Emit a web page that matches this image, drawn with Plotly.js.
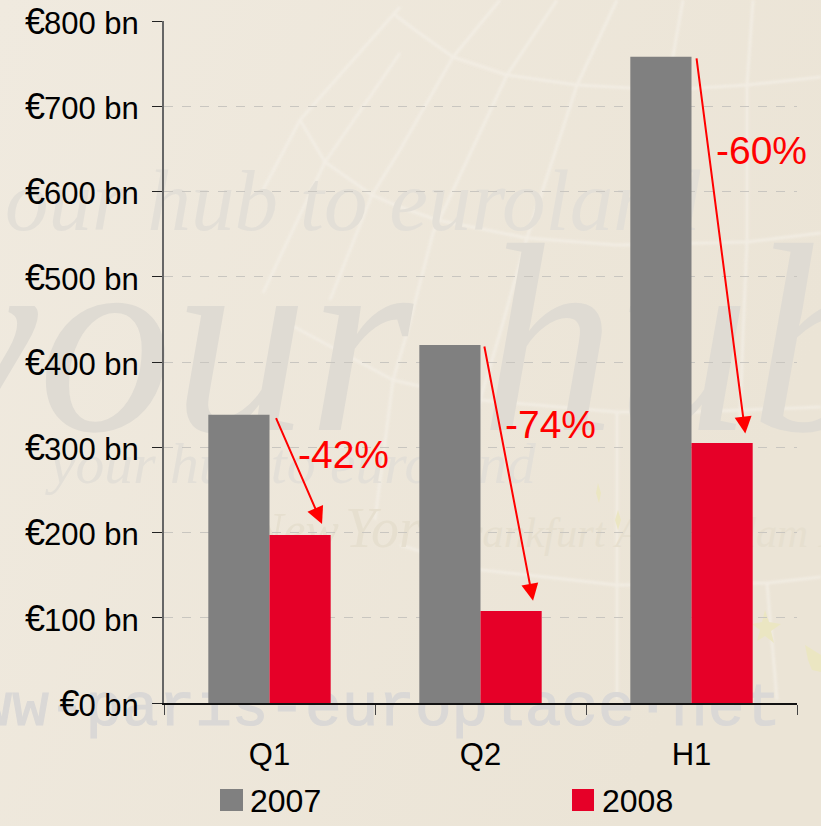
<!DOCTYPE html>
<html>
<head>
<meta charset="utf-8">
<script src="https://cdn.plot.ly/plotly-3.0.1.min.js"></script>
<style>
html,body{margin:0;padding:0;width:821px;height:826px;overflow:hidden;background:#efe9de}
#bg{position:absolute;left:0;top:0;width:821px;height:826px}
#chart{position:absolute;left:0;top:0;width:821px;height:826px}
</style>
</head>
<body>
<svg id="bg" viewBox="0 0 821 826" xmlns="http://www.w3.org/2000/svg">
  <defs>
    <linearGradient id="g" x1="0" y1="0" x2="1" y2="0.4">
      <stop offset="0" stop-color="#f0eadf"/>
      <stop offset="1" stop-color="#ebe4d6"/>
    </linearGradient>
    <filter id="soft" x="-5%" y="-5%" width="110%" height="110%"><feGaussianBlur stdDeviation="0.8"/></filter>
  </defs>
  <rect width="821" height="826" fill="url(#g)"/>
  <g fill="none" stroke="#f4f0e8" stroke-width="3" stroke-linejoin="round" opacity="0.7" filter="url(#soft)">
    <polyline points="395,15 415,30 453,57 507,75 577,85 667,90 747,85 821,77"/>
    <polyline points="300,120 325,162 372,195 400,207 437,220 527,238 617,245 747,242 821,233"/>
    <polyline points="287,323 393,380 480,400 617,412 693,412 821,407"/>
    <polyline points="400,545 482,570 617,585 767,583 821,577"/>
    <polyline points="400,7 300,120 263,190"/>
    <polyline points="500,0 453,57 400,150 372,195 330,300"/>
    <polyline points="400,53 325,162 263,293"/>
    <polyline points="557,0 507,75 433,233 407,333 393,380 375,520"/>
    <polyline points="617,0 577,85 527,238 500,333 480,400 440,600"/>
    <polyline points="683,0 667,90 640,200"/>
    <polyline points="753,0 747,85 747,242 743,333 740,420"/>
    <polyline points="617,412 617,700"/>
    <polyline points="767,583 777,700"/>
  </g>
  <g font-family="'Liberation Serif',serif" font-style="italic" fill="#dfdbd3">
    <text x="-82" y="430" font-size="270">your hub</text>
    <text x="5" y="230" font-size="87" fill="#e3dfd7">our hub to euroland</text>
    <text x="50" y="483" font-size="57.6" fill="#e3dfd7">your hub to euroland</text>
    <text x="250" y="547" font-size="50" fill="#e6dfcf">New</text>
    <text x="345" y="547" font-size="56" fill="#e6dfcf">York</text>
    <text x="440" y="547" font-size="42.6" fill="#e6dfcf">Frankfurt Amsterdam New</text>
  </g>
  <text x="-61" y="725" font-family="'Liberation Mono',monospace" font-size="61" fill="#dad8d6" stroke="#dad8d6" stroke-width="1.2">www-paris-europlace·net</text>
  <g fill="#ebe6c2">
    <polygon points="765,610 769,622 781,624 771,631 774,643 765,636 757,641 760,630 752,624 762,622"/>
    <polygon points="805,645 821,655 821,672 812,670 808,660"/>
    <polygon points="598,483 601,493 599,503 596,493"/>
    <polygon points="618,510 621,520 618,530 615,520"/>
  </g>
</svg>
<div id="chart"></div>
<script>
var categories = ['Q1', 'Q2', 'H1'];
var seriesNames = ['2007', '2008'];
var values2007 = [338, 420, 758];
var values2008 = [197, 108, 305];
var tickValues = [0, 100, 200, 300, 400, 500, 600, 700, 800];
var tickNumbers = ['0', '100', '200', '300', '400', '500', '600', '700', '800'];
var changeLabels = ['-42%', '-74%', '-60%'];
// arrow tails and tips (category position, value)
var arrowTailX = [0.028, 1.017, 2.023];
var arrowTailY = [336, 420, 758];
var arrowTipX  = [0.249, 1.249, 2.255];
var arrowTipY  = [210, 120, 316];
var labelX = [0.353, 1.334, 2.33];
var labelY = [292, 327, 648];

var GREY = '#808080', RED = '#e60028', ARROW = '#ff0000';
var FONT = '"Liberation Sans", Arial, sans-serif';
var W = 633, H = 682, L = 164, T = 21;
function px(x){ return (x - L) / W; }
function py(y){ return (T + H - y) / H; }

var traces = [
  {type:'bar', name:seriesNames[0], x:categories, y:values2007, marker:{color:GREY, line:{width:0}}},
  {type:'bar', name:seriesNames[1], x:categories, y:values2008, marker:{color:RED, line:{width:0}}}
];

var annotations = [];
categories.forEach(function(c, i){
  annotations.push({
    xref:'x', yref:'y', axref:'x', ayref:'y',
    x:arrowTipX[i], y:arrowTipY[i], ax:arrowTailX[i], ay:arrowTailY[i],
    text:'', showarrow:true, arrowhead:2, arrowsize:1.7, arrowwidth:2, arrowcolor:ARROW, standoff:0, startstandoff:0
  });
  annotations.push({
    xref:'x', yref:'y', x:labelX[i], y:labelY[i], text:changeLabels[i], showarrow:false,
    font:{family:FONT, size:39, color:ARROW}, xanchor:'center', yanchor:'middle'
  });
});
annotations.push({xref:'paper', yref:'paper', x:px(248), y:py(801), xanchor:'left', yanchor:'middle', showarrow:false,
  text:seriesNames[0], font:{family:FONT, size:32, color:'#000'}});
annotations.push({xref:'paper', yref:'paper', x:px(600), y:py(801), xanchor:'left', yanchor:'middle', showarrow:false,
  text:seriesNames[1], font:{family:FONT, size:32, color:'#000'}});

var shapes = [
  {type:'rect', xref:'paper', yref:'paper', x0:px(220), x1:px(243), y0:py(811), y1:py(789), fillcolor:GREY, line:{width:0}},
  {type:'rect', xref:'paper', yref:'paper', x0:px(572), x1:px(594), y0:py(811), y1:py(789), fillcolor:RED, line:{width:0}}
];

var layout = {
  width:821, height:826,
  margin:{l:L, r:821-L-W, t:T, b:826-T-H, pad:0},
  paper_bgcolor:'rgba(0,0,0,0)', plot_bgcolor:'rgba(0,0,0,0)',
  showlegend:false, barmode:'group', bargap:0.42, bargroupgap:0,
  font:{family:FONT, size:31, color:'#000'},
  xaxis:{type:'category', range:[-0.5,2.5], tickson:'boundaries', ticks:'outside', ticklen:10, tickwidth:1, tickcolor:'#444',
    showline:true, linecolor:'#111', linewidth:1.5, showgrid:false, zeroline:false, fixedrange:true, ticklabelstandoff:23,
    tickfont:{family:FONT, size:31, color:'#000'}},
  yaxis:{range:[0,800], tickmode:'array', tickvals:tickValues,
    ticktext:tickNumbers.map(function(n){ return '<span style="font-size:36px;letter-spacing:-1px">€</span>' + n + ' bn'; }),
    ticks:'outside', ticklen:10, tickwidth:1, tickcolor:'#222', showline:true, linecolor:'#666', linewidth:2,
    showgrid:true, gridcolor:'#c9c6c0', griddash:'dash', gridwidth:1, zeroline:false, fixedrange:true, ticklabelstandoff:7,
    ticklabeloverflow:'allow', ticklabelshift:2,
    tickfont:{family:FONT, size:31, color:'#000'}},
  annotations:annotations, shapes:shapes
};
Plotly.newPlot('chart', traces, layout, {displayModeBar:false, staticPlot:true});
</script>
</body>
</html>
